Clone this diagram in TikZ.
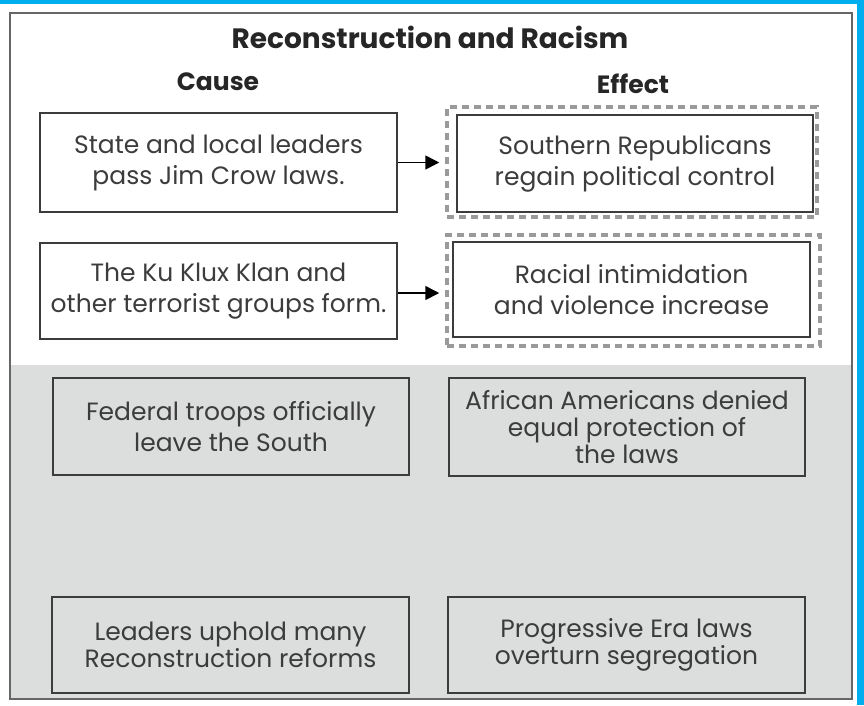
\documentclass[tikz,border=0pt]{standalone}
\usepackage{fontspec}
\setmainfont{Poppins}
\usetikzlibrary{arrows.meta}
\definecolor{frameblue}{HTML}{00AEEF}
\definecolor{bandgray}{HTML}{DCDDDD}
\definecolor{inkgray}{HTML}{3C3C3C}
\definecolor{dotgray}{HTML}{9A9A9A}
\tikzset{
  cell/.style={draw=inkgray,line width=1.8pt,text=inkgray,align=center,inner sep=0pt,
    minimum width=356pt,font=\fontsize{25}{31}\selectfont},
  tightcell/.style={cell,font=\fontsize{25}{27}\selectfont},
  dotframe/.style={draw=dotgray,line width=3.5pt,dash pattern=on 7pt off 5pt,inner sep=0pt},
  heading/.style={anchor=base,text=black!85,font=\bfseries\fontsize{25}{29}\selectfont},
  link/.style={line width=1.6pt,-{Triangle[length=14pt,width=14pt]},shorten >=6pt}
}
\begin{document}
\begin{tikzpicture}[x=1pt,y=-1pt]
	\useasboundingbox (0,0) rectangle (864,705) ;
	\fill[frameblue] (0,0) rectangle (864,705) ;
	\fill[white] (0,4) rectangle (857,705) ;
	\fill[bandgray] (10,365) rectangle (852,699) ;
	\draw[line width=1.5pt,black!60] (10,13) rectangle (852,699) ;
	% headings
	\node[heading,font=\bfseries\fontsize{28}{32}\selectfont] (title) at (430,48) {Reconstruction and Racism} ;
	\node[heading] (cause) at (218,90) {Cause} ;
	\node[heading] (effect) at (633,93) {Effect} ;
	% causes and effects with links
	\node[cell,minimum height=99pt,minimum width=357pt] (cjim) at (218.5,162.5) {State and local leaders\\pass Jim Crow laws.} ;
	\node[cell,minimum height=96pt,minimum width=357pt] (cklan) at (218.5,291) {The Ku Klux Klan and\\other terrorist groups form.} ;
	\node[dotframe,minimum width=370pt,minimum height=110pt] (fjim) at (632,162) {} ;
	\node[cell,minimum height=97pt] (ejim) at (635,163.5) {Southern Republicans\\regain political control} ;
	\node[dotframe,minimum width=373pt,minimum height=111pt] (fklan) at (633.5,290.5) {} ;
	\node[cell,minimum height=95pt,minimum width=357pt] (eklan) at (631.5,289.5) {Racial intimidation\\and violence increase} ;
	\draw[link] (cjim.east) -- (cjim.east -| fjim.west) ;
	\draw[link] ([yshift=-2pt]cklan.east) -- ([yshift=-2pt]cklan.east -| fklan.west) ;
	% distractors on the gray band
	\node[cell,minimum height=97pt] (ctroops) at (231,426.5) {Federal troops officially\\leave the South} ;
	\node[tightcell,minimum height=98pt] (edenied) at (627,427) {African Americans denied\\equal protection of\\the laws} ;
	\node[tightcell,minimum height=96pt,minimum width=357pt] (creforms) at (230.5,645) {Leaders uphold many\\Reconstruction reforms} ;
	\node[tightcell,minimum height=96pt,minimum width=357pt] (eprogress) at (626.5,645) {Progressive Era laws\\overturn segregation} ;
\end{tikzpicture}
\end{document}
